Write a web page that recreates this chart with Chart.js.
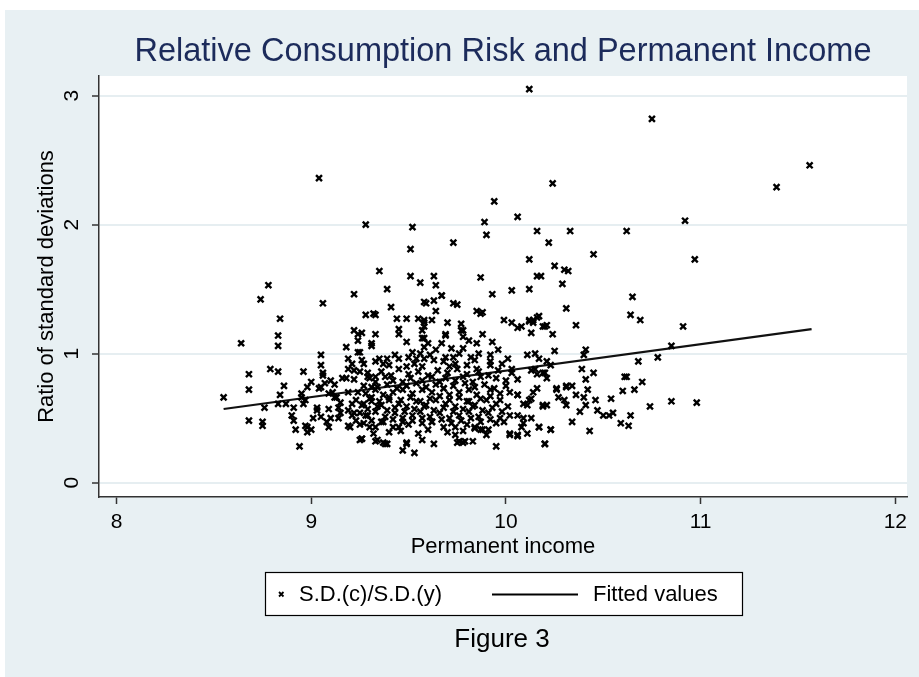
<!DOCTYPE html>
<html>
<head>
<meta charset="utf-8">
<script src="https://cdn.jsdelivr.net/npm/chart.js@4.4.1/dist/chart.umd.min.js"></script>
<style>
  html, body { margin: 0; padding: 0; background: #ffffff; }
  #wrap { position: relative; width: 919px; height: 677px; }
</style>
</head>
<body>
<div id="wrap"><canvas id="grafico"></canvas></div>
<script>
// Eixos
const xTicks = [8, 9, 10, 11, 12];
const yTicks = [0, 1, 2, 3];

// Pontos: renda permanente (x) e razão dos desvios-padrão (y)
const incomeX = [
  10.12, 10.75, 9.04, 11.56, 11.39, 10.92, 10.62, 10.97, 10.65, 10.24, 9.94, 10.06, 9.28, 9.52, 9.89, 9.90, 10.16, 10.33, 9.73, 9.51,
  10.22, 10.45, 10.12, 10.25, 10.30, 10.32, 9.35, 9.51, 9.63, 9.56, 9.64, 10.16, 10.18, 10.29, 9.87, 9.22, 9.39, 10.03, 10.12, 9.93,
  9.67, 9.41, 9.58, 9.63, 9.73, 9.75, 10.31,
  8.78, 8.74, 8.84, 8.83, 8.83, 8.64, 9.06, 8.68, 8.68, 8.55, 8.79, 8.83, 8.86, 8.84, 8.76, 8.68, 8.75, 8.75, 8.94, 8.83,
  8.87, 8.91, 8.90, 8.91, 8.92, 8.96, 8.95, 8.96, 8.97, 8.98, 9.00, 9.05, 9.05, 9.06, 9.07, 9.05, 9.09, 9.03, 9.05, 9.10,
  9.09, 9.10, 9.13, 9.14, 9.18, 9.19, 9.19, 9.18, 9.22, 9.24, 9.26, 9.24, 9.24, 9.21, 9.22, 9.26, 9.21, 9.22, 9.19, 9.26,
  9.32, 9.30, 9.28, 9.31, 9.34, 9.33, 9.29, 9.32, 9.28, 9.33, 9.31,
  9.06, 9.00, 8.98, 8.95, 9.04, 9.11, 9.16, 9.12, 8.97, 8.98, 9.01, 9.03, 9.09, 9.08, 9.14, 9.15, 9.20, 9.19, 9.23, 9.23, 9.25,
  9.67, 9.59, 9.64, 9.85, 9.87, 9.33, 9.44, 9.49, 9.55, 9.58, 9.70, 9.77, 9.99, 10.03, 9.45, 9.45, 9.58, 9.78, 9.69, 9.88,
  9.31, 9.49, 9.58, 9.60, 9.67, 9.81, 9.85, 9.93, 9.25, 9.56, 9.64, 9.72, 9.78, 9.86, 9.96, 9.39, 9.45, 9.50, 9.54, 9.58,
  9.63, 9.73, 9.82, 9.92, 10.01, 9.33, 9.37, 9.40, 9.49, 9.53, 9.57, 9.68, 9.71, 9.74, 9.80, 9.85, 9.92, 9.98, 10.03, 9.25,
  9.29, 9.30, 9.33, 9.38, 9.42, 9.47, 9.51, 9.57, 9.62, 9.66, 9.69, 9.74, 9.78, 9.83, 9.87, 9.95, 10.00, 9.27, 9.28, 9.33,
  9.37, 9.42, 9.47, 9.52, 9.57, 9.62, 9.68, 9.71, 9.76, 9.81, 9.85, 9.92, 9.97, 10.02, 9.24, 9.27, 9.31, 9.36, 9.40, 9.45,
  9.49, 9.54, 9.59, 9.64, 9.69, 9.74, 9.80, 9.84, 9.90, 9.95, 10.01, 9.25, 9.29, 9.33, 9.38, 9.43, 9.47, 9.52, 9.56, 9.61,
  9.66, 9.71, 9.76, 9.81, 9.86, 9.91, 9.97, 10.02, 9.27, 9.33, 9.37, 9.42, 9.45, 9.50, 9.57, 9.62, 9.68, 9.74, 9.80, 9.84,
  9.88, 9.95, 9.99, 9.26, 9.33, 9.38, 9.39, 9.49, 9.53, 9.47, 9.57, 9.63, 9.74, 9.76, 9.79, 9.83, 9.95, 10.02,
  9.49, 9.37, 9.75, 9.78, 10.20, 9.34, 9.84, 9.87, 9.91, 10.02, 10.06, 10.17, 10.23, 10.11, 10.19, 10.26, 10.31, 10.23, 10.19, 10.06,
  9.58, 9.62, 9.88, 10.06, 10.12, 10.14, 10.16, 10.19, 10.21, 10.13, 10.24, 9.57, 9.57, 9.58, 9.69, 9.77, 9.78,
  10.64, 10.69, 10.91, 10.08, 10.12, 10.14, 10.17, 10.20, 10.36, 10.25, 10.41, 10.40, 10.11, 10.15, 10.17, 10.21, 10.85, 10.78, 10.68, 10.39,
  10.45, 10.13, 10.15, 10.16, 10.20, 10.21, 10.03, 10.06, 10.41, 10.61, 10.62, 10.70, 10.26, 10.31, 10.34, 10.42, 10.16, 10.14, 10.06, 10.60,
  10.66, 10.27, 10.30, 10.31, 10.36, 10.40, 10.46, 10.54, 10.85, 10.74, 10.13, 10.12, 10.09, 10.19, 10.21, 10.41, 10.47, 10.38, 10.50, 10.53,
  10.55, 10.64, 10.59, 10.63, 10.34, 10.06, 10.09, 10.13, 10.09, 10.08, 10.17, 10.23, 10.11, 10.06, 10.43, 10.20, 10.98,
  9.36, 9.41, 9.45, 9.50, 9.55, 9.60, 9.65, 9.70, 9.75, 9.80, 9.86, 9.91, 9.96, 9.31, 9.39, 9.44, 9.49, 9.54, 9.59, 9.64,
  9.68, 9.73, 9.79, 9.84, 9.89, 9.94, 10.00, 9.30, 9.35, 9.40, 9.46, 9.51, 9.56, 9.61, 9.66, 9.71, 9.76, 9.81, 9.87, 9.92,
  9.97, 9.29, 9.34, 9.39, 9.43, 9.48, 9.53, 9.58, 9.63, 9.68, 9.73, 9.78, 9.83, 9.88, 9.93, 9.98, 9.31, 9.36, 9.42, 9.47,
  9.52, 9.57, 9.62, 9.67, 9.72, 9.77, 9.82, 9.87, 9.92, 9.40, 9.46, 9.55, 9.60, 9.70, 9.78, 9.90, 9.35, 9.43, 9.52, 9.61,
  9.69, 9.76, 9.84, 9.92, 9.27, 9.22, 9.19, 9.15, 9.12, 9.26, 9.21, 9.25
];
const ratioY = [
  3.05, 2.82, 2.36, 2.46, 2.29, 2.03, 1.95, 1.73, 1.44, 2.32, 2.18, 2.06, 2.00, 1.98, 2.02, 1.92, 1.95, 1.95, 1.86, 1.81,
  1.86, 1.77, 1.73, 1.68, 1.65, 1.64, 1.64, 1.60, 1.60, 1.55, 1.53, 1.60, 1.60, 1.54, 1.59, 1.46, 1.50, 1.49, 1.50, 1.46,
  1.45, 1.36, 1.40, 1.41, 1.39, 1.38, 1.35,
  1.53, 1.42, 1.27, 1.14, 1.06, 1.08, 1.39, 0.84, 0.72, 0.66, 0.88, 0.86, 0.75, 0.68, 0.58, 0.48, 0.47, 0.44, 0.28, 0.61,
  0.61, 0.58, 0.52, 0.48, 0.41, 0.86, 0.66, 0.61, 0.44, 0.39, 0.41, 0.99, 0.91, 0.85, 0.77, 0.74, 0.69, 0.58, 0.51, 0.50,
  0.43, 0.79, 0.66, 0.58, 1.05, 0.96, 0.88, 0.81, 1.18, 1.15, 1.16, 1.10, 1.01, 0.92, 0.87, 0.95, 0.61, 0.54, 0.44, 0.34,
  0.38, 0.43, 0.52, 0.66, 0.74, 0.82, 0.82, 1.31, 1.30, 1.15, 1.06,
  0.83, 0.78, 0.74, 0.69, 0.73, 0.70, 0.81, 0.66, 0.64, 0.43, 0.50, 0.56, 0.57, 0.47, 0.50, 0.54, 0.43, 0.56, 0.64, 0.48, 0.33,
  1.45, 1.39, 1.33, 1.33, 1.31, 1.30, 1.27, 1.27, 1.27, 1.26, 1.24, 1.23, 1.26, 1.24, 1.19, 1.15, 1.21, 1.18, 1.14, 1.15,
  1.08, 1.09, 1.12, 1.08, 1.08, 1.10, 1.08, 1.09, 1.01, 1.00, 1.03, 1.04, 1.04, 1.00, 1.03, 0.96, 0.96, 0.97, 0.96, 0.96,
  0.95, 0.97, 0.97, 0.99, 0.96, 0.94, 0.92, 0.91, 0.90, 0.92, 0.90, 0.94, 0.90, 0.92, 0.91, 0.88, 0.91, 0.92, 0.88, 0.86,
  0.85, 0.81, 0.78, 0.82, 0.79, 0.78, 0.81, 0.79, 0.82, 0.78, 0.81, 0.79, 0.82, 0.78, 0.82, 0.81, 0.79, 0.75, 0.69, 0.72,
  0.68, 0.70, 0.72, 0.69, 0.72, 0.70, 0.73, 0.68, 0.70, 0.72, 0.68, 0.72, 0.69, 0.70, 0.70, 0.61, 0.63, 0.60, 0.64, 0.61,
  0.59, 0.63, 0.60, 0.64, 0.61, 0.59, 0.63, 0.60, 0.64, 0.61, 0.59, 0.54, 0.52, 0.55, 0.51, 0.54, 0.50, 0.52, 0.55, 0.51,
  0.54, 0.50, 0.52, 0.55, 0.51, 0.54, 0.50, 0.52, 0.46, 0.43, 0.47, 0.43, 0.43, 0.45, 0.46, 0.47, 0.43, 0.43, 0.45, 0.43,
  0.41, 0.46, 0.47, 0.34, 0.32, 0.30, 0.30, 0.30, 0.23, 0.25, 0.33, 0.30, 0.37, 0.32, 0.32, 0.32, 0.28, 0.38,
  0.31, 0.31, 0.31, 0.31, 0.30, 0.33, 0.42, 0.41, 0.41, 0.37, 0.37, 0.43, 0.41, 0.60, 0.60, 0.73, 0.74, 0.91, 0.85, 0.68,
  1.24, 1.26, 1.32, 1.20, 1.26, 1.26, 1.28, 1.21, 1.22, 1.16, 1.15, 1.18, 1.12, 1.05, 1.15, 1.18, 1.13,
  1.30, 1.26, 1.21, 1.21, 1.25, 1.24, 1.29, 1.21, 1.22, 1.02, 1.03, 0.99, 0.99, 1.00, 0.96, 0.94, 1.06, 0.97, 0.94, 0.88,
  0.85, 0.87, 0.88, 0.84, 0.85, 0.81, 0.85, 0.80, 0.80, 0.82, 0.82, 0.78, 0.72, 0.75, 0.75, 0.72, 0.73, 0.70, 0.68, 0.71,
  0.72, 0.66, 0.64, 0.60, 0.68, 0.66, 0.64, 0.65, 0.63, 0.59, 0.65, 0.64, 0.61, 0.59, 0.60, 0.60, 0.56, 0.55, 0.52, 0.52,
  0.54, 0.52, 0.46, 0.44, 0.47, 0.52, 0.50, 0.50, 0.46, 0.43, 0.43, 0.41, 0.38, 0.36, 0.40, 0.30, 0.62,
  0.86, 0.83, 0.88, 0.84, 0.86, 0.83, 0.87, 0.85, 0.88, 0.84, 0.86, 0.83, 0.87, 0.74, 0.76, 0.73, 0.75, 0.77, 0.74, 0.76,
  0.73, 0.75, 0.77, 0.74, 0.76, 0.73, 0.75, 0.65, 0.63, 0.66, 0.64, 0.66, 0.63, 0.65, 0.67, 0.64, 0.66, 0.63, 0.65, 0.67,
  0.64, 0.57, 0.59, 0.56, 0.58, 0.55, 0.57, 0.59, 0.56, 0.58, 0.55, 0.57, 0.59, 0.56, 0.58, 0.55, 0.48, 0.47, 0.49, 0.47,
  0.48, 0.50, 0.47, 0.49, 0.46, 0.48, 0.50, 0.47, 0.49, 0.39, 0.40, 0.38, 0.41, 0.39, 0.40, 0.37, 0.96, 0.99, 1.01, 0.99,
  0.97, 1.00, 0.95, 0.94, 0.92, 0.80, 0.70, 0.62, 0.76, 0.60, 0.52, 0.45
];

// Reta ajustada (extremos)
const fitX = [8.55, 11.57];
const fitY = [0.57, 1.19];

// Cores
const corFundo = "#e8f0f3";
const corTitulo = "#1c2b5b";
const corEixo = "#333333";

Chart.defaults.font.family = "'Liberation Sans', Arial, Helvetica, sans-serif";
Chart.defaults.color = "#000000";

// Desenha fundo, rótulos girados do eixo y, legenda e legenda da figura
const decoracao = {
  id: "decoracao",
  beforeDraw(chart) {
    const { ctx, chartArea } = chart;
    ctx.save();
    ctx.fillStyle = "#ffffff";
    ctx.fillRect(0, 0, chart.width, chart.height);
    ctx.fillStyle = corFundo;
    ctx.fillRect(5, 10, chart.width - 5, chart.height - 10);
    ctx.fillStyle = "#ffffff";
    ctx.fillRect(chartArea.left, chartArea.top, chartArea.right - chartArea.left, chartArea.bottom - chartArea.top);
    ctx.restore();
  },
  afterDraw(chart) {
    const { ctx, chartArea } = chart;
    const y = chart.scales.y;
    ctx.save();
    ctx.fillStyle = "#000000";
    ctx.textAlign = "center";
    ctx.textBaseline = "middle";

    // Rótulos do eixo y (girados)
    ctx.font = "21px 'Liberation Sans', Arial, sans-serif";
    yTicks.forEach((v) => {
      ctx.save();
      ctx.translate(71, y.getPixelForValue(v));
      ctx.rotate(-Math.PI / 2);
      ctx.fillText(String(v), 0, 1);
      ctx.restore();
    });

    // Título do eixo y
    ctx.font = "22px 'Liberation Sans', Arial, sans-serif";
    ctx.save();
    ctx.translate(47, (chartArea.top + chartArea.bottom) / 2);
    ctx.rotate(-Math.PI / 2);
    ctx.fillText("Ratio of standard deviations", 0, 0);
    ctx.restore();

    // Legenda com moldura
    ctx.fillStyle = "#ffffff";
    ctx.fillRect(265, 572, 477, 43);
    ctx.strokeStyle = "#000000";
    ctx.lineWidth = 1.2;
    ctx.strokeRect(265.5, 572.5, 477, 43);

    ctx.lineWidth = 1.8;
    ctx.beginPath();
    ctx.moveTo(279, 592);
    ctx.lineTo(283.5, 596.5);
    ctx.moveTo(283.5, 592);
    ctx.lineTo(279, 596.5);
    ctx.stroke();

    ctx.lineWidth = 2;
    ctx.beginPath();
    ctx.moveTo(492, 594.5);
    ctx.lineTo(578, 594.5);
    ctx.stroke();

    ctx.fillStyle = "#000000";
    ctx.textAlign = "left";
    ctx.font = "22px 'Liberation Sans', Arial, sans-serif";
    ctx.fillText("S.D.(c)/S.D.(y)", 299, 595);
    ctx.fillText("Fitted values", 593, 595);

    // Legenda da figura
    ctx.textAlign = "center";
    ctx.font = "26px 'Liberation Sans', Arial, sans-serif";
    ctx.fillText("Figure 3", 502, 640);
    ctx.restore();
  },
};

const dadosPontos = incomeX.map((x, i) => ({ x: x, y: ratioY[i] }));
const dadosReta = fitX.map((x, i) => ({ x: x, y: fitY[i] }));

new Chart(document.getElementById("grafico"), {
  type: "scatter",
  data: {
    datasets: [
      {
        label: "S.D.(c)/S.D.(y)",
        data: dadosPontos,
        pointStyle: "crossRot",
        pointRadius: 4.2,
        borderColor: "#000000",
        backgroundColor: "#000000",
        pointBorderWidth: 2.4,
        pointHoverRadius: 4.2,
      },
      {
        type: "line",
        label: "Fitted values",
        data: dadosReta,
        borderColor: "#111111",
        borderWidth: 2.2,
        pointRadius: 0,
        showLine: true,
        fill: false,
      },
    ],
  },
  options: {
    responsive: true,
    maintainAspectRatio: false,
    animation: false,
    events: [],
    layout: {
      padding: { top: 0, left: 0, right: 12, bottom: 115 },
    },
    plugins: {
      legend: { display: false },
      tooltip: { enabled: false },
      title: {
        display: true,
        fullSize: false,
        text: "Relative Consumption Risk and Permanent Income",
        color: corTitulo,
        font: { size: 32.5, weight: "normal" },
        padding: { top: 33, bottom: 4 },
      },
    },
    scales: {
      x: {
        type: "linear",
        min: 7.91,
        max: 12.06,
        afterBuildTicks: (scale) => {
          scale.ticks = xTicks.map((v) => ({ value: v }));
        },
        afterFit: (scale) => {
          scale.height = 65;
        },
        border: { display: true, color: corEixo, width: 1.5 },
        grid: {
          drawOnChartArea: false,
          drawTicks: true,
          tickLength: 7,
          tickColor: corEixo,
          tickWidth: 1.5,
        },
        ticks: {
          padding: 6,
          maxRotation: 0,
          font: { size: 21 },
          color: "#000000",
        },
        title: {
          display: true,
          text: "Permanent income",
          font: { size: 22 },
          color: "#000000",
          padding: { top: 0, bottom: 2 },
        },
      },
      y: {
        type: "linear",
        min: -0.112,
        max: 3.152,
        afterBuildTicks: (scale) => {
          scale.ticks = yTicks.map((v) => ({ value: v }));
        },
        afterFit: (scale) => {
          scale.width = 99;
        },
        border: { display: true, color: corEixo, width: 1.5 },
        grid: {
          color: "#e6eef1",
          lineWidth: 2,
          drawTicks: true,
          tickLength: 7,
          tickColor: corEixo,
          tickWidth: 1.5,
        },
        ticks: {
          color: "rgba(0,0,0,0)",
          font: { size: 21 },
        },
      },
    },
  },
  plugins: [decoracao],
});
</script>
</body>
</html>
